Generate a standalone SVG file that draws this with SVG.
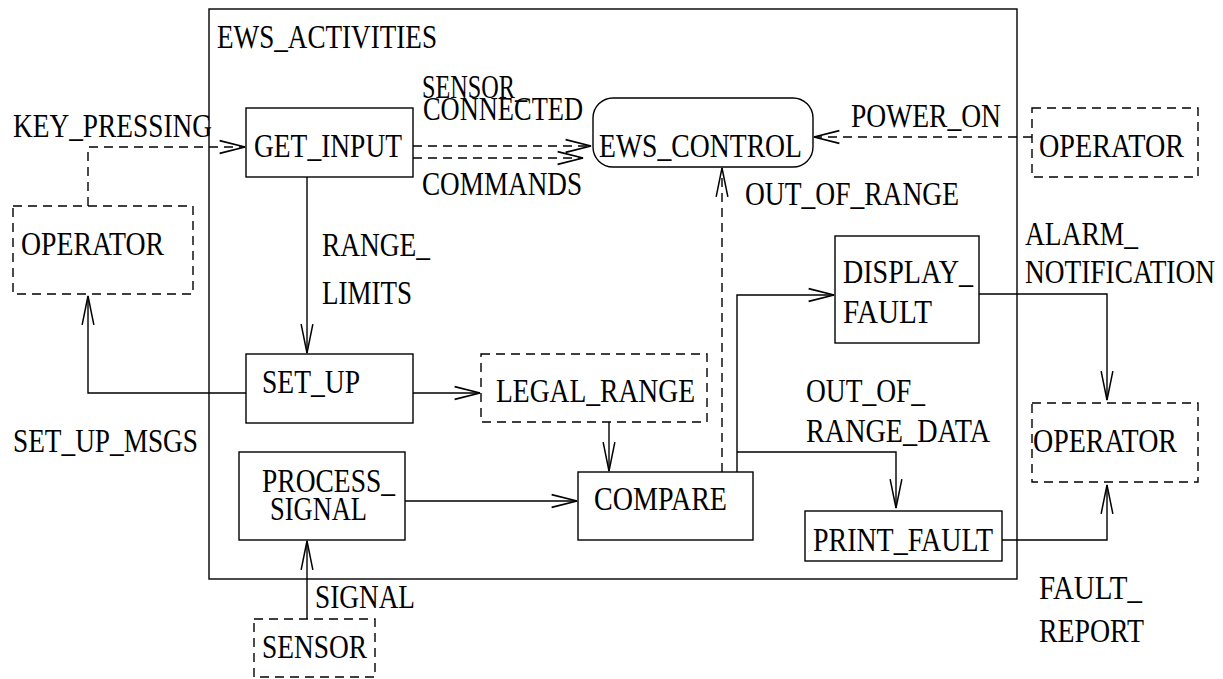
<svg xmlns="http://www.w3.org/2000/svg" width="1223" height="679" viewBox="0 0 1223 679">
<style>
text{font-family:"Liberation Serif","Times New Roman",serif;font-size:33px;fill:#000}
.box{fill:none;stroke:#000;stroke-width:1.4}
.dbox{fill:none;stroke:#000;stroke-width:1.4;stroke-dasharray:9 6}
.c{fill:none;stroke:#000;stroke-width:1.4}
.d{fill:none;stroke:#000;stroke-width:1.4;stroke-dasharray:9 6}
</style>
<defs>
<marker id="ah" markerUnits="userSpaceOnUse" markerWidth="30" markerHeight="30" viewBox="-23 -7 26 14" refX="0" refY="0" orient="auto">
<polyline points="-22,-5.5 0,0 -22,5.5" fill="none" stroke="#000" stroke-width="1.4"/>
</marker>
<marker id="av" markerUnits="userSpaceOnUse" markerWidth="32" markerHeight="32" viewBox="-28 -7 30 14" refX="0" refY="0" orient="auto">
<polyline points="-27,-5.5 0,0 -27,5.5" fill="none" stroke="#000" stroke-width="1.4"/>
</marker>
</defs>

<g id="ews_activities">
<rect class="box" x="209" y="9" width="808" height="570"/>
<text x="217" y="48" textLength="220" lengthAdjust="spacingAndGlyphs">EWS_ACTIVITIES</text>
</g>

<g id="connectors">
<path class="d" d="M88,206 V147 H245" marker-end="url(#ah)"/>
<path class="d" d="M413,146 H591" marker-end="url(#ah)"/>
<path class="d" d="M413,158 H583" marker-end="url(#ah)"/>
<path class="d" d="M1032,137 H814" marker-end="url(#ah)"/>
<path class="d" d="M722,472 V168" marker-end="url(#av)"/>
<path class="c" d="M307,177 V353" marker-end="url(#av)"/>
<path class="c" d="M246,393 H88 V296" marker-end="url(#av)"/>
<path class="c" d="M413,393 H480" marker-end="url(#ah)"/>
<path class="c" d="M609,422 V471" marker-end="url(#av)"/>
<path class="c" d="M405,501 H577" marker-end="url(#ah)"/>
<path class="c" d="M307,619 V541" marker-end="url(#av)"/>
<path class="c" d="M737,472 V295 H834" marker-end="url(#ah)"/>
<path class="c" d="M737,452 H896 V508" marker-end="url(#av)"/>
<path class="c" d="M979,294 H1107 V400" marker-end="url(#av)"/>
<path class="c" d="M1002,540 H1107 V485" marker-end="url(#av)"/>
<text x="13" y="137" textLength="199" lengthAdjust="spacingAndGlyphs">KEY_PRESSING</text>
<text x="422" y="98" textLength="105" lengthAdjust="spacingAndGlyphs">SENSOR_</text>
<text x="423" y="120" textLength="160" lengthAdjust="spacingAndGlyphs">CONNECTED</text>
<text x="422" y="195" textLength="160" lengthAdjust="spacingAndGlyphs">COMMANDS</text>
<text x="851" y="127" textLength="150" lengthAdjust="spacingAndGlyphs">POWER_ON</text>
<text x="745" y="205" textLength="214" lengthAdjust="spacingAndGlyphs">OUT_OF_RANGE</text>
<text x="322" y="256" textLength="108" lengthAdjust="spacingAndGlyphs">RANGE_</text>
<text x="322" y="304" textLength="90" lengthAdjust="spacingAndGlyphs">LIMITS</text>
<text x="13" y="452" textLength="185" lengthAdjust="spacingAndGlyphs">SET_UP_MSGS</text>
<text x="1025" y="245" textLength="113" lengthAdjust="spacingAndGlyphs">ALARM_</text>
<text x="1025" y="283" textLength="190" lengthAdjust="spacingAndGlyphs">NOTIFICATION</text>
<text x="806" y="402" textLength="119" lengthAdjust="spacingAndGlyphs">OUT_OF_</text>
<text x="806" y="442" textLength="184" lengthAdjust="spacingAndGlyphs">RANGE_DATA</text>
<text x="1039" y="599" textLength="103" lengthAdjust="spacingAndGlyphs">FAULT_</text>
<text x="1039" y="642" textLength="105" lengthAdjust="spacingAndGlyphs">REPORT</text>
<text x="315" y="608" textLength="100" lengthAdjust="spacingAndGlyphs">SIGNAL</text>
</g>

<g id="get_input">
<rect class="box" x="246" y="108" width="167" height="69"/>
<text x="254" y="157" textLength="148" lengthAdjust="spacingAndGlyphs">GET_INPUT</text>
</g>

<g id="ews_control">
<rect class="box" x="593" y="98" width="220" height="69" rx="20" ry="20"/>
<text x="599" y="157" textLength="203" lengthAdjust="spacingAndGlyphs">EWS_CONTROL</text>
</g>

<g id="operator_top">
<rect class="dbox" x="1032" y="108" width="166" height="69"/>
<text x="1039" y="157" textLength="145" lengthAdjust="spacingAndGlyphs">OPERATOR</text>
</g>

<g id="operator_left">
<rect class="dbox" x="13" y="206" width="180" height="88"/>
<text x="21" y="255" textLength="143" lengthAdjust="spacingAndGlyphs">OPERATOR</text>
</g>

<g id="set_up">
<rect class="box" x="246" y="354" width="167" height="69"/>
<text x="262" y="393" textLength="98" lengthAdjust="spacingAndGlyphs">SET_UP</text>
</g>

<g id="legal_range">
<rect class="dbox" x="481" y="354" width="226" height="68"/>
<text x="496" y="402" textLength="199" lengthAdjust="spacingAndGlyphs">LEGAL_RANGE</text>
</g>

<g id="compare">
<rect class="box" x="578" y="472" width="175" height="68"/>
<text x="594" y="510" textLength="133" lengthAdjust="spacingAndGlyphs">COMPARE</text>
</g>

<g id="display_fault">
<rect class="box" x="835" y="236" width="144" height="107"/>
<text x="843" y="283" textLength="130" lengthAdjust="spacingAndGlyphs">DISPLAY_</text>
<text x="843" y="323" textLength="89" lengthAdjust="spacingAndGlyphs">FAULT</text>
</g>

<g id="operator_bottom">
<rect class="dbox" x="1032" y="403" width="166" height="79"/>
<text x="1033" y="452" textLength="144" lengthAdjust="spacingAndGlyphs">OPERATOR</text>
</g>

<g id="print_fault">
<rect class="box" x="805" y="511" width="197" height="50"/>
<text x="813" y="551" textLength="180" lengthAdjust="spacingAndGlyphs">PRINT_FAULT</text>
</g>

<g id="process_signal">
<rect class="box" x="239" y="452" width="166" height="88"/>
<text x="262" y="492" textLength="133" lengthAdjust="spacingAndGlyphs">PROCESS_</text>
<text x="270" y="520" textLength="97" lengthAdjust="spacingAndGlyphs">SIGNAL</text>
</g>

<g id="sensor">
<rect class="dbox" x="254" y="619" width="121" height="58"/>
<text x="262" y="658" textLength="105" lengthAdjust="spacingAndGlyphs">SENSOR</text>
</g>
</svg>
